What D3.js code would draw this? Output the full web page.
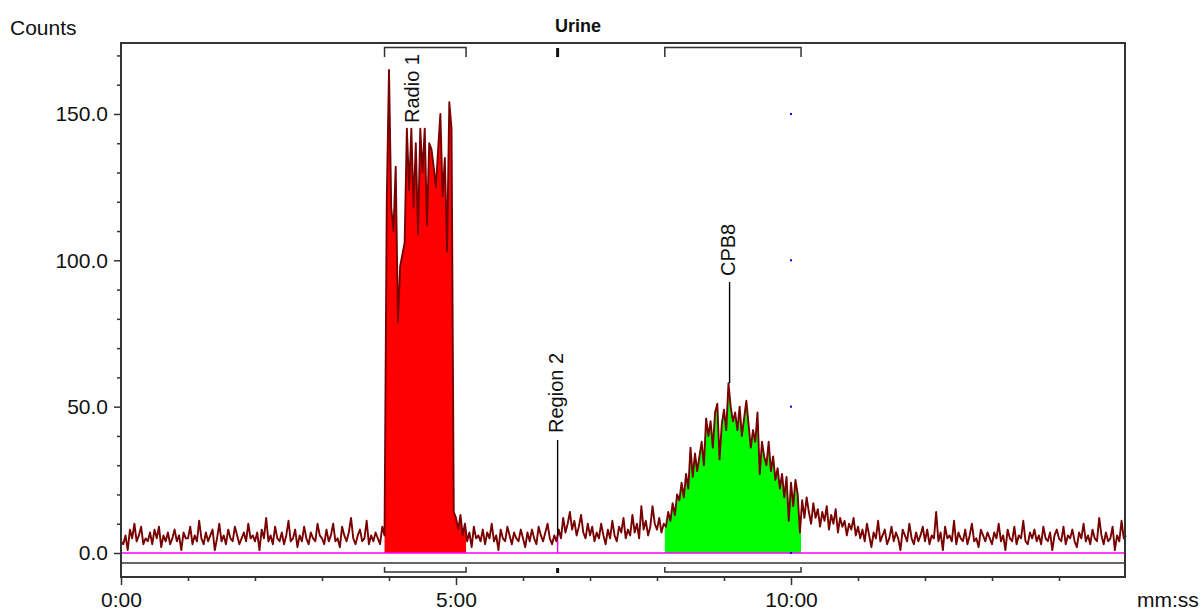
<!DOCTYPE html>
<html><head><meta charset="utf-8">
<script src="https://cdn.jsdelivr.net/npm/d3@7"></script>
<style>
html,body{margin:0;padding:0;background:#fff;}
svg{display:block;font-family:"Liberation Sans",Arial,sans-serif;}
</style></head><body>
<svg id="chart" width="1204" height="610"></svg>
<script>
// ---------------- data ----------------
const chartTitle = "Urine";
const yAxisTitle = "Counts";
const xAxisTitle = "mm:ss";
const sampleStepSeconds = 2;
// counts sampled every 2 s, one row per minute
const counts = [
  4,3,6,1,8,5,10,4,6,9, 3,5,4,7,3,8,5,9,2,6, 4,7,3,5,8,4,6,1,7,5,
  5,9,3,6,4,11,5,3,7,4, 6,8,1,5,10,4,6,3,8,5, 4,9,6,3,5,7,4,10,5,6,
  4,7,1,8,5,12,4,6,3,9, 5,4,7,3,6,11,4,5,8,2, 6,4,9,5,3,7,5,4,10,6,
  5,3,8,4,6,10,4,5,2,9, 6,4,7,12,5,3,6,8,4,5, 11,3,6,4,7,5,3,9,6,120,
  165,118,110,132,79,98,102,106,145,124, 145,118,140,109,145,130,145,112,140,138, 132,125,138,150,122,135,103,154,145,14,
  12,8,13,6,10,4,7,2,9,5, 6,4,8,3,7,5,10,4,6,1, 8,5,4,9,6,3,7,5,4,8,
  5,2,7,4,8,5,3,9,6,4, 7,10,5,3,6,4,8,5,12,7, 10,14,8,11,6,9,13,7,5,10,
  6,9,4,7,5,10,6,3,8,5, 11,6,4,9,7,12,5,8,6,13, 7,10,5,16,8,11,6,9,16,10,
  8,12,7,10,9,14,11,17,13,20, 18,24,19,27,22,36,26,34,28,33, 38,30,46,40,45,36,48,51,32,44,
  49,42,58,50,45,48,42,50,40,46, 52,44,36,42,38,48,27,38,33,30, 38,28,33,25,29,22,27,19,26,11,
  24,16,25,20,7,18,12,19,14,10, 17,12,15,9,14,11,16,8,13,10, 15,7,12,9,11,6,10,8,12,6,
  9,5,8,4,10,6,2,7,5,11, 4,6,8,3,5,9,4,7,5,1, 8,6,4,10,5,3,7,4,6,9,
  4,8,3,6,5,14,4,7,1,9, 5,6,4,11,3,7,5,4,8,3, 6,10,4,5,2,8,6,4,7,5,
  3,7,5,10,4,6,1,8,5,4, 9,3,6,5,11,4,3,7,5,8, 4,6,3,9,5,4,7,1,6,8,
  5,4,9,3,6,5,8,4,2,7, 5,10,4,6,3,8,5,4,12,6, 3,7,4,5,9,1,6,4,11,5,
  6
];
const regionNames  = ["Radio 1", "Region 2", "CPB8"];
const regionStarts = [236, 391, 487];   // seconds
const regionEnds   = [309, 391, 609];   // seconds
const labelTimes   = [261.5, 391, 545]; // seconds
const yMajorTicks = [0, 50, 100, 150];
const yMinorTicks = [10, 20, 30, 40, 60, 70, 80, 90, 110, 120, 130, 140, 160, 170];
const xMajorTicks = [0, 300, 600];      // seconds
const xMinorTicks = [60, 120, 180, 240, 360, 420, 480, 540, 660, 720, 780, 840];
const markerValues = [0, 50, 100, 150];
const markerTime = 600;

// ---------------- layout / style ----------------
const L = {left:121, right:1125, top:43, zeroY:553, innerY:563, axisY:577, yTopValue:174.25,
  fills:["#ff0000", null, "#00ff00"],
  labelBottomY:[123, 433, 276], labelLineTopY:[null, 440, 282]};

const svg = d3.select("#chart");
const series = counts.map((c, i) => ({t: i * sampleStepSeconds, c}));
const x = d3.scaleLinear().domain([0, 900]).range([L.left, L.left + 1005]);
const y = d3.scaleLinear().domain([0, L.yTopValue]).range([L.zeroY, L.top]);

const defs = svg.append("defs");
const area = d3.area().x(d => x(d.t)).y0(L.zeroY).y1(d => y(d.c));
regionNames.forEach((n, i) => {
  if (!L.fills[i]) return;
  defs.append("clipPath").attr("id", "clip" + i).append("rect")
    .attr("x", x(regionStarts[i])).attr("y", 0)
    .attr("width", x(regionEnds[i]) - x(regionStarts[i])).attr("height", L.zeroY);
  svg.append("path").datum(series).attr("d", area)
    .attr("fill", L.fills[i]).attr("clip-path", `url(#clip${i})`);
});

// magenta baseline
svg.append("line").attr("x1", L.left).attr("x2", L.right).attr("y1", y(0)).attr("y2", y(0))
  .attr("stroke", "#ff00ff").attr("stroke-width", 1.6);

function valueAt(t){
  const i = Math.floor(t / sampleStepSeconds);
  const a = series[i], b = series[Math.min(i + 1, series.length - 1)];
  const f = (t - a.t) / sampleStepSeconds;
  return a.c + (b.c - a.c) * f;
}
function peakNear(t){
  return d3.max(series.filter(d => Math.abs(d.t - t) <= 2), d => d.c);
}

// Region 2 magenta stem under the trace
svg.append("line").attr("x1", x(regionStarts[1])).attr("x2", x(regionStarts[1]))
  .attr("y1", y(valueAt(regionStarts[1]))).attr("y2", y(0))
  .attr("stroke", "#ff00ff").attr("stroke-width", 1.4);

// trace
svg.append("path").datum(series)
  .attr("d", d3.line().x(d => x(d.t)).y(d => y(d.c)))
  .attr("fill", "none").attr("stroke", "#780000").attr("stroke-width", 1.9)
  .attr("stroke-linejoin", "round");

// blue markers
svg.selectAll("rect.mk").data(markerValues).join("rect").attr("class", "mk")
  .attr("x", x(markerTime) - 1).attr("y", v => y(v) - 1).attr("width", 2).attr("height", 2)
  .attr("fill", "#0000ff");

// labels & leaders
regionNames.forEach((n, i) => {
  const lx = x(labelTimes[i]);
  if (L.labelLineTopY[i] !== null) {
    const v = i === 1 ? valueAt(labelTimes[i]) : peakNear(labelTimes[i]);
    svg.append("line").attr("x1", lx).attr("x2", lx)
      .attr("y1", L.labelLineTopY[i]).attr("y2", y(v))
      .attr("stroke", "#000").attr("stroke-width", 1.4);
  }
  svg.append("text").text(n)
    .attr("transform", `translate(${lx - 1.5},${L.labelBottomY[i]}) rotate(-90)`)
    .attr("dy", "0.35em").attr("font-size", 20).attr("fill", "#111");
});

// frame
const frame = svg.append("g").attr("stroke", "#333").attr("fill", "none");
frame.append("rect").attr("x", L.left).attr("y", L.top)
  .attr("width", L.right - L.left).attr("height", L.axisY - L.top).attr("stroke-width", 2);
frame.append("line").attr("x1", L.left).attr("x2", L.right).attr("y1", L.innerY).attr("y2", L.innerY)
  .attr("stroke-width", 1.5);

// region brackets (top and bottom)
regionNames.forEach((n, i) => {
  const x0 = x(regionStarts[i]), x1 = x(regionEnds[i]);
  if (regionStarts[i] === regionEnds[i]) {
    svg.append("line").attr("x1", x0).attr("x2", x0).attr("y1", 48).attr("y2", 57)
      .attr("stroke", "#111").attr("stroke-width", 3);
    svg.append("line").attr("x1", x0).attr("x2", x0).attr("y1", 568).attr("y2", 573)
      .attr("stroke", "#111").attr("stroke-width", 3);
  } else {
    svg.append("path").attr("d", `M${x0},57V47.5H${x1}V57`)
      .attr("fill", "none").attr("stroke", "#333").attr("stroke-width", 1.5);
    svg.append("path").attr("d", `M${x0},567V572H${x1}V567`)
      .attr("fill", "none").attr("stroke", "#333").attr("stroke-width", 1.5);
  }
});

// y axis
svg.append("g").attr("transform", `translate(${L.left},0)`)
  .call(d3.axisLeft(y).tickValues(yMajorTicks).tickSize(7).tickPadding(6).tickFormat(d3.format(".1f")));
svg.append("g").attr("transform", `translate(${L.left},0)`)
  .call(d3.axisLeft(y).tickValues(yMinorTicks).tickSize(4).tickFormat(""));

// x axis
const fmt = s => `${Math.floor(s / 60)}:${String(s % 60).padStart(2, "0")}`;
const xAxis = svg.append("g").attr("transform", `translate(0,${L.axisY})`)
  .call(d3.axisBottom(x).tickValues(xMajorTicks).tickSize(8).tickFormat(fmt));
xAxis.selectAll("text").attr("y", 15);
svg.append("g").attr("transform", `translate(0,${L.axisY})`)
  .call(d3.axisBottom(x).tickValues(xMinorTicks).tickSize(4).tickFormat(""));

svg.selectAll(".domain").remove();
svg.selectAll(".tick line").attr("stroke", "#333").attr("stroke-width", 1.5);
svg.selectAll(".tick text").attr("font-size", 21).attr("fill", "#111")
  .attr("font-family", "Liberation Sans, Arial, sans-serif");

// titles
svg.append("text").text(yAxisTitle).attr("x", 10).attr("y", 35).attr("font-size", 21).attr("fill", "#111");
svg.append("text").text(xAxisTitle).attr("x", 1137).attr("y", 607).attr("font-size", 21).attr("fill", "#111");
svg.append("text").text(chartTitle).attr("x", 578).attr("y", 32).attr("text-anchor", "middle")
  .attr("font-size", 18).attr("font-weight", "bold").attr("fill", "#111");
</script>
</body></html>
